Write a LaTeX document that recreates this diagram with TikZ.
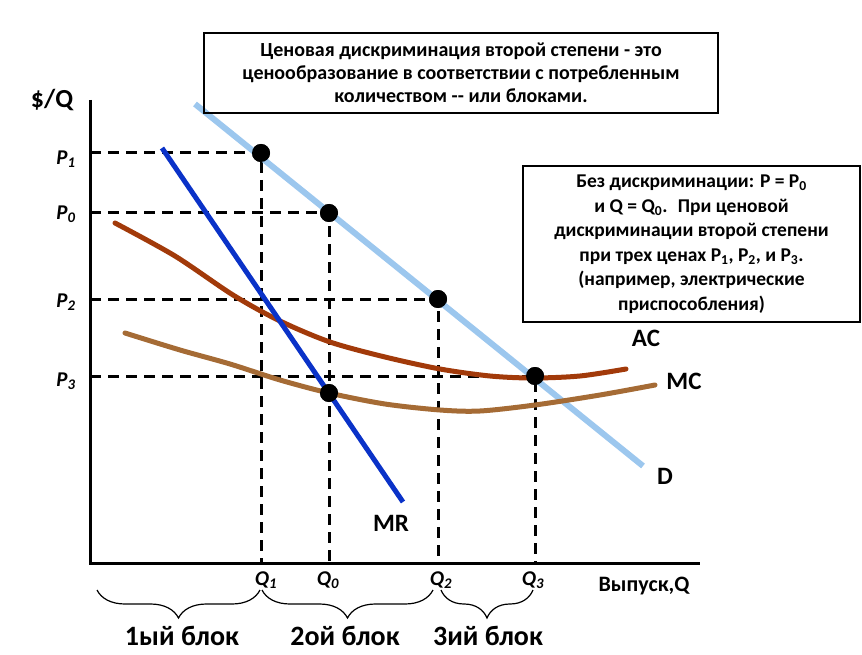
\documentclass[tikz,border=0pt]{standalone}
\usepackage{fontspec}
\setmainfont{Carlito}
\usetikzlibrary{decorations.pathreplacing}
\definecolor{dcol}{HTML}{9CC7EE}
\definecolor{mrcol}{HTML}{0A32C8}
\definecolor{accol}{HTML}{A23A0A}
\definecolor{mccol}{HTML}{A56B35}
\begin{document}
\begin{tikzpicture}[x=1pt,y=-1pt,
  guide/.style={line width=3pt, dash pattern=on 11pt off 7pt},
  axisline/.style={line width=3pt},
  dot/.style={circle, fill=black, minimum size=18pt, inner sep=0pt},
  curve/.style={line width=5pt, line cap=round},
  lbl/.style={font=\bfseries\fontsize{25}{29}\selectfont, inner sep=0pt},
  plbl/.style={font=\bfseries\itshape\fontsize{21}{25}\selectfont, inner sep=0pt},
  blk/.style={font=\bfseries\fontsize{28}{32}\selectfont, inner sep=0pt},
  bracestyle/.style={line width=1.2pt, decorate, decoration={brace, amplitude=28pt}},
  textbox/.style={draw, line width=1.5pt, align=center, inner sep=0pt}
]
\useasboundingbox (0,0) rectangle (862,655);
% axes
\coordinate (O) at (90,563);
\coordinate (ytop) at (90,100);
\coordinate (xend) at (700,563);
% points
\node[dot] (e1) at (261,153) {};
\node[dot] (e0) at (329,213) {};
\node[dot] (e2) at (438,299) {};
\node[dot] (e3) at (535,376) {};
\node[dot] (em) at (329,393) {};
% guides
\draw[guide] (O |- e1) -- (e1.center) -- (e1.center |- O);
\draw[guide] (O |- e0) -- (e0.center) -- (e0.center |- O);
\draw[guide] (O |- e2) -- (e2.center) -- (e2.center |- O);
\draw[guide] (O |- e3) -- (e3.center) -- (e3.center |- O);
% curves
\coordinate (dTop) at (195,104);
\coordinate (dBot) at (643,466);
\draw[dcol, line width=6pt] (dTop) -- (dBot);
\draw[accol, curve] plot[smooth] coordinates {(115,223) (175,256) (233,295) (280,321) (330,342) (385,357) (440,369) (490,376) (533,378) (580,376) (626,369)};
\draw[mccol, curve] plot[smooth] coordinates {(125,333) (180,350) (230,364) (280,380) (329,393) (385,404) (440,410) (480,411) (535,405) (600,395) (655,385)};
\coordinate (mrTop) at (162,148);
\coordinate (mrBot) at (403,502);
\draw[mrcol, line width=5pt] (mrTop) -- (mrBot);
% redraw dots on top
\foreach \p in {e1,e0,e2,e3,em} \fill (\p) circle (9pt);
\draw[axisline] (ytop) -- (O) -- (xend);
% labels
\node[lbl, font=\bfseries\fontsize{26}{30}\selectfont] (ylab) at (52,100) {\$/Q};
\node[lbl, font=\bfseries\fontsize{22}{26}\selectfont] (xlab) at (644,586) {Выпуск,Q};
\node[plbl] (p1) at (66,159) {P\textsubscript{1}};
\node[plbl] (p0) at (66,214) {P\textsubscript{0}};
\node[plbl] (p2) at (66,302) {P\textsubscript{2}};
\node[plbl] (p3) at (66,381) {P\textsubscript{3}};
\node[plbl] (q1) at (266,580) {Q\textsubscript{1}};
\node[plbl] (q0) at (328,580) {Q\textsubscript{0}};
\node[plbl] (q2) at (441,580) {Q\textsubscript{2}};
\node[plbl] (q3) at (533,580) {Q\textsubscript{3}};
\node[lbl] (acl) at (646,338) {AC};
\node[lbl] (mcl) at (684,381) {MC};
\node[lbl] (dl) at (665,476) {D};
\node[lbl] (mrl) at (391,523) {MR};
% braces
\coordinate (b1a) at (97,590);
\coordinate (b1b) at (260,590);
\coordinate (b2a) at (262,590);
\coordinate (b2b) at (433,590);
\coordinate (b3a) at (441,590);
\coordinate (b3b) at (533,590);
\draw[bracestyle] (b1b) -- (b1a);
\draw[bracestyle] (b2b) -- (b2a);
\draw[bracestyle] (b3b) -- (b3a);
\node[blk] (k1) at (182,636) {1ый блок};
\node[blk] (k2) at (345,636) {2ой блок};
\node[blk] (k3) at (488,636) {3ий блок};
% text boxes
\node[textbox, minimum width=514pt, minimum height=80pt, font=\bfseries\fontsize{20}{23}\selectfont] (top) at (461,73)
 {Ценовая дискриминация второй степени - это\\ценообразование в соответствии с потребленным\\количеством -{}- или блоками.};
\node[textbox, minimum width=337pt, minimum height=156pt, font=\bfseries\fontsize{19.5}{24.5}\selectfont] (rbox) at (691.5,244)
 {Без дискриминации: P = P\textsubscript{0}\\и Q = Q\textsubscript{0}.~ При ценовой\\дискриминации второй степени\\при трех ценах P\textsubscript{1}, P\textsubscript{2}, и P\textsubscript{3}.\\(например, электрические\\приспособления)};
\end{tikzpicture}
\end{document}
